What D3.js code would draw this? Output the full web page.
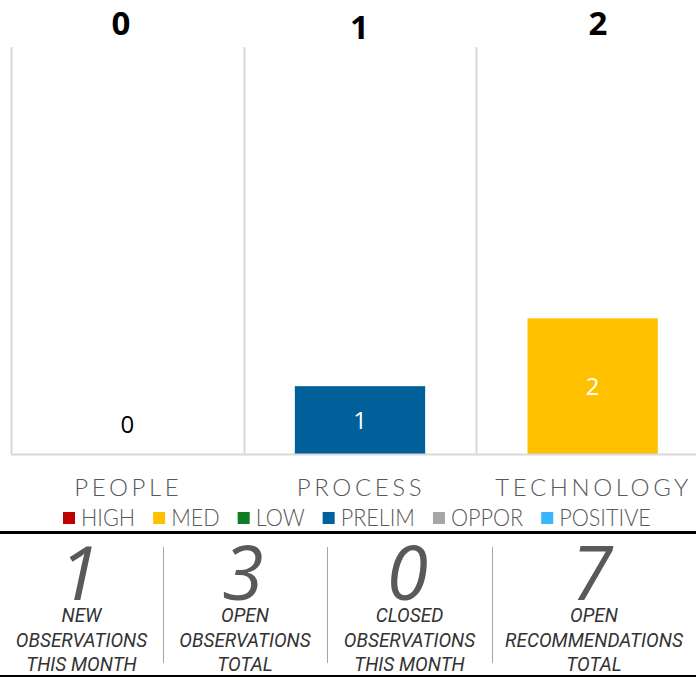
<!DOCTYPE html>
<meta charset="utf-8">
<style>
body { margin: 0; background: #fff; }
svg { display: block; }
</style>
<body>
<script src="https://d3js.org/d3.v7.min.js"></script>
<script>

// data
var categories = ["PEOPLE", "PROCESS", "TECHNOLOGY"];
var topCounts = [0, 1, 2];
var seriesNames = ["HIGH", "MED", "LOW", "PRELIM", "OPPOR", "POSITIVE"];
var seriesColors = ["#C00000", "#FFC000", "#127A24", "#00609A", "#A6A6A6", "#38B6FF"];
var high = [0, 0, 0];
var med = [0, 0, 2];
var low = [0, 0, 0];
var prelim = [0, 1, 0];
var oppor = [0, 0, 0];
var positive = [0, 0, 0];
var statValues = [1, 3, 0, 7];
var statLabels = [
  ["NEW", "OBSERVATIONS", "THIS MONTH"],
  ["OPEN", "OBSERVATIONS", "TOTAL"],
  ["CLOSED", "OBSERVATIONS", "THIS MONTH"],
  ["OPEN", "RECOMMENDATIONS", "TOTAL"]
];

var width = 696, height = 677;

var svg = d3.select("body").append("svg")
  .attr("width", width).attr("height", height);

// squeeze a text horizontally (the original uses a narrow font)
function condense(sel, k) {
  var w = sel.node().getComputedTextLength();
  sel.attr("textLength", w * k).attr("lengthAdjust", "spacingAndGlyphs");
  return w * k;
}

var rows = categories.map(function(c, i) {
  return { cat: c, HIGH: high[i], MED: med[i], LOW: low[i], PRELIM: prelim[i], OPPOR: oppor[i], POSITIVE: positive[i] };
});
var stacked = d3.stack().keys(seriesNames)(rows);

var x = d3.scaleBand().domain(categories).range([11, 709]).padding(0);
var y = d3.scaleLinear().domain([0, 6]).range([454, 47]);
var color = d3.scaleOrdinal().domain(seriesNames).range(seriesColors);
var barW = x.bandwidth() * 0.56;

// vertical separators between categories
svg.selectAll("line.vgrid").data(categories).enter().append("line")
  .attr("class", "vgrid")
  .attr("x1", function(d) { return Math.round(x(d)) + 0.5; })
  .attr("x2", function(d) { return Math.round(x(d)) + 0.5; })
  .attr("y1", y(6)).attr("y2", y(0))
  .attr("stroke", "#D9D9D9").attr("stroke-width", 2);

// bars
var layer = svg.selectAll("g.layer").data(stacked).enter().append("g")
  .attr("class", "layer")
  .attr("fill", function(d) { return color(d.key); });

layer.selectAll("rect").data(function(d) { return d; }).enter().append("rect")
  .attr("x", function(d) { return x(d.data.cat) + (x.bandwidth() - barW) / 2; })
  .attr("width", barW)
  .attr("y", function(d) { return y(d[1]); })
  .attr("height", function(d) { return y(d[0]) - y(d[1]); });

// baseline
svg.append("line")
  .attr("x1", 11).attr("x2", width)
  .attr("y1", y(0) + 0.5).attr("y2", y(0) + 0.5)
  .attr("stroke", "#D9D9D9").attr("stroke-width", 2);

// segment labels
stacked.forEach(function(s) {
  s.forEach(function(d) {
    if (d[1] - d[0] > 0) {
      svg.append("text")
        .attr("x", x(d.data.cat) + x.bandwidth() / 2)
        .attr("y", (y(d[0]) + y(d[1])) / 2 + 9)
        .attr("text-anchor", "middle")
        .style("font-family", "'Open Sans', sans-serif")
        .style("font-size", "24px")
        .attr("fill", "#fff")
        .text(d[1] - d[0]);
    }
  });
});

// zero totals
rows.forEach(function(r, i) {
  var total = d3.sum(seriesNames, function(k) { return r[k]; });
  if (total === 0) {
    svg.append("text")
      .attr("x", x(r.cat) + x.bandwidth() / 2)
      .attr("y", y(0) - 21)
      .attr("text-anchor", "middle")
      .style("font-family", "'Open Sans', sans-serif")
      .style("font-size", "24px")
      .attr("fill", "#000")
      .text(total);
  }
});

// counts on top
var xTop = d3.scalePoint().domain(categories).range([121, 598]);
svg.selectAll("text.top").data(topCounts).enter().append("text")
  .attr("class", "top")
  .attr("x", function(d, i) { return xTop(categories[i]); })
  .attr("y", function(d, i) { return i === 1 ? 39 : 35; })
  .attr("text-anchor", "middle")
  .style("font-family", "'Open Sans', sans-serif")
  .style("font-weight", "bold")
  .style("font-size", "33px")
  .text(function(d) { return d; });

// category labels
svg.selectAll("text.cat").data(categories).enter().append("text")
  .attr("class", "cat")
  .attr("x", function(d) { return x(d) + x.bandwidth() / 2 + 1; })
  .attr("y", 496)
  .attr("text-anchor", "middle")
  .style("font-family", "Lato, sans-serif")
  .style("font-weight", 300)
  .style("font-size", "24px")
  .style("letter-spacing", "3.6px")
  .attr("fill", "#595959")
  .text(function(d) { return d; });

// legend
var lx = 63;
seriesNames.forEach(function(name) {
  svg.append("rect")
    .attr("x", lx).attr("y", 512)
    .attr("width", 12).attr("height", 12)
    .attr("fill", color(name));
  var t = svg.append("text")
    .attr("x", lx + 18).attr("y", 525.5)
    .style("font-family", "Lato, sans-serif")
    .style("font-weight", 300)
    .style("font-size", "24px")
    .attr("fill", "#595959")
    .text(name);
  lx += 18 + condense(t, 0.9) + 18;
});

// bottom panel
svg.append("line")
  .attr("x1", 0).attr("x2", width)
  .attr("y1", 532.5).attr("y2", 532.5)
  .attr("stroke", "#000").attr("stroke-width", 3);
svg.append("line")
  .attr("x1", 0).attr("x2", width)
  .attr("y1", 676).attr("y2", 676)
  .attr("stroke", "#000").attr("stroke-width", 2);

var colEdges = [0, 163, 327, 492, 696];
var statX = function(i) { return (colEdges[i] + colEdges[i + 1]) / 2; };

svg.selectAll("line.sep").data(colEdges.slice(1, 4)).enter().append("line")
  .attr("class", "sep")
  .attr("x1", function(d) { return d + 0.5; })
  .attr("x2", function(d) { return d + 0.5; })
  .attr("y1", 547).attr("y2", 663)
  .attr("stroke", "#A6A6A6").attr("stroke-width", 1);

svg.selectAll("text.big").data(statValues).enter().append("text")
  .attr("class", "big")
  .attr("x", function(d, i) { return statX(i) - 2; })
  .attr("y", 600)
  .attr("text-anchor", "middle")
  .style("font-family", "'Open Sans', sans-serif")
  .style("font-style", "italic")
  .style("font-weight", 400)
  .style("font-size", "75px")
  .attr("fill", "#595959")
  .text(function(d) { return d; });

statLabels.forEach(function(lines, i) {
  lines.forEach(function(line, j) {
    var t = svg.append("text")
      .attr("x", statX(i))
      .attr("y", 622 + j * 24.5)
      .attr("text-anchor", "middle")
      .style("font-family", "Roboto, sans-serif")
      .style("font-style", "italic")
      .style("font-size", "20px")
      .attr("fill", "#333333")
      .text(line);
    condense(t, 0.95);
  });
});

</script>
</body>
